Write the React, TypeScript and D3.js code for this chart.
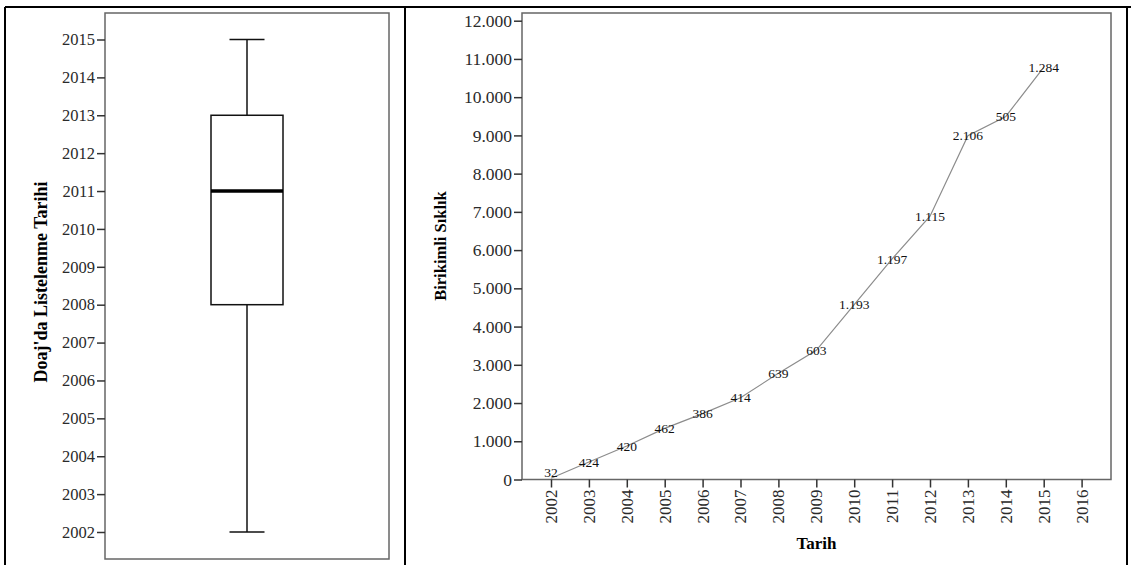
import React, { useEffect, useRef } from "react";
import * as d3 from "d3";

// box plot: Doaj listing year
const boxStats = { min: 2002, q1: 2008, median: 2011, q3: 2013, max: 2015 };
const boxTicks = [2002, 2003, 2004, 2005, 2006, 2007, 2008, 2009, 2010, 2011, 2012, 2013, 2014, 2015];

// line chart: cumulative frequency
const years = [2002, 2003, 2004, 2005, 2006, 2007, 2008, 2009, 2010, 2011, 2012, 2013, 2014, 2015, 2016];
const yearlyCounts = [32, 424, 420, 462, 386, 414, 639, 603, 1193, 1197, 1115, 2106, 505, 1284];
const cumTicks = [0, 1000, 2000, 3000, 4000, 5000, 6000, 7000, 8000, 9000, 10000, 11000, 12000];

const trFormat = d3.formatLocale({ decimal: ",", thousands: ".", grouping: [3], currency: ["", ""] }).format(",");
const SERIF = "'Liberation Serif', 'Times New Roman', serif";

const App = () => {
  const svgRef = useRef<SVGSVGElement>(null);

  useEffect(() => {
    const svg = d3.select(svgRef.current);
    svg.selectAll("*").remove();

    // table borders
    const border = svg.append("g").attr("stroke", "#000").attr("stroke-width", 2);
    border.append("line").attr("x1", 5).attr("x2", 1131).attr("y1", 7).attr("y2", 7);
    [5, 405, 1127].forEach((x) => {
      border.append("line").attr("x1", x).attr("x2", x).attr("y1", 7).attr("y2", 565);
    });

    const styleAxis = (size) => (g) => {
      g.select(".domain").remove();
      g.selectAll(".tick line").attr("stroke", "#333").attr("stroke-width", 1.5);
      g.selectAll(".tick text")
        .attr("fill", "#2a2a2a")
        .style("font-family", SERIF)
        .style("font-size", size + "px");
    };

    // ---- left: box plot
    const left = svg.append("g");
    const yBox = d3.scaleLinear().domain([2002, 2015]).range([532, 39.5]);
    const cx = 247;
    const boxW = 72;
    const capW = 35;

    left
      .append("rect")
      .attr("x", 105)
      .attr("y", 13)
      .attr("width", 284)
      .attr("height", 546)
      .attr("fill", "#fff")
      .attr("stroke", "#666")
      .attr("stroke-width", 1.5);

    left
      .append("g")
      .attr("transform", "translate(105,0)")
      .call(d3.axisLeft(yBox).tickValues(boxTicks).tickFormat(d3.format("d")).tickSize(8).tickPadding(2))
      .call(styleAxis(16.5));

    const box = left.append("g").attr("stroke", "#111").attr("stroke-width", 1.5).attr("fill", "none");
    box.append("line").attr("x1", cx).attr("x2", cx).attr("y1", yBox(boxStats.max)).attr("y2", yBox(boxStats.q3));
    box.append("line").attr("x1", cx).attr("x2", cx).attr("y1", yBox(boxStats.q1)).attr("y2", yBox(boxStats.min));
    [boxStats.min, boxStats.max].forEach((v) => {
      box
        .append("line")
        .attr("x1", cx - capW / 2)
        .attr("x2", cx + capW / 2)
        .attr("y1", yBox(v))
        .attr("y2", yBox(v));
    });
    box
      .append("rect")
      .attr("x", cx - boxW / 2)
      .attr("y", yBox(boxStats.q3))
      .attr("width", boxW)
      .attr("height", yBox(boxStats.q1) - yBox(boxStats.q3));
    box
      .append("line")
      .attr("x1", cx - boxW / 2)
      .attr("x2", cx + boxW / 2)
      .attr("y1", yBox(boxStats.median))
      .attr("y2", yBox(boxStats.median))
      .attr("stroke", "#000")
      .attr("stroke-width", 3.5);

    left
      .append("text")
      .attr("transform", "translate(47,282) rotate(-90)")
      .attr("text-anchor", "middle")
      .style("font-family", SERIF)
      .style("font-size", "18px")
      .style("font-weight", "bold")
      .text("Doaj'da Listelenme Tarihi");

    // ---- right: cumulative line
    const right = svg.append("g");
    const x = d3.scalePoint().domain(years).range([551, 1081.6]);
    const y = d3.scaleLinear().domain([0, 12000]).range([479.5, 20.7]);
    const cum = Array.from(d3.cumsum(yearlyCounts));
    const points = cum.map((v, i) => ({ year: years[i], value: v, count: yearlyCounts[i] }));

    right
      .append("rect")
      .attr("x", 522)
      .attr("y", 13)
      .attr("width", 589)
      .attr("height", 466.5)
      .attr("fill", "#fff")
      .attr("stroke", "#666")
      .attr("stroke-width", 1.5);

    right
      .append("g")
      .attr("transform", "translate(522,0)")
      .call(d3.axisLeft(y).tickValues(cumTicks).tickFormat(trFormat).tickSize(8).tickPadding(2))
      .call(styleAxis(17.5));

    right
      .append("g")
      .attr("transform", "translate(0,479.5)")
      .call(d3.axisBottom(x).tickFormat(d3.format("d")).tickSize(8).tickPadding(2))
      .call(styleAxis(17))
      .call((g) =>
        g
          .selectAll(".tick text")
          .attr("transform", "rotate(-90)")
          .attr("text-anchor", "end")
          .attr("x", -10)
          .attr("y", 0)
          .attr("dy", "0.32em")
      );

    const line = d3
      .line()
      .x((d) => x(d.year))
      .y((d) => y(d.value));

    right
      .append("path")
      .datum(points)
      .attr("d", line)
      .attr("fill", "none")
      .attr("stroke", "#8c8c8c")
      .attr("stroke-width", 1.2);

    right
      .append("g")
      .selectAll("text")
      .data(points)
      .join("text")
      .attr("x", (d) => x(d.year))
      .attr("y", (d) => Math.min(y(d.value), y(0) - 7))
      .attr("dy", "0.35em")
      .attr("text-anchor", "middle")
      .attr("fill", "#111")
      .style("font-family", SERIF)
      .style("font-size", "13.5px")
      .text((d) => trFormat(d.count));

    right
      .append("text")
      .attr("transform", "translate(446,246) rotate(-90)")
      .attr("text-anchor", "middle")
      .style("font-family", SERIF)
      .style("font-size", "16.5px")
      .style("font-weight", "bold")
      .text("Birikimli Sıklık");

    right
      .append("text")
      .attr("x", 816.5)
      .attr("y", 549)
      .attr("text-anchor", "middle")
      .style("font-family", SERIF)
      .style("font-size", "17px")
      .style("font-weight", "bold")
      .text("Tarih");
  }, []);

  return (
    <div style={{ position: "absolute", left: 0, top: 0 }}>
      <svg ref={svgRef} width={1131} height={565} style={{ display: "block", background: "#fff" }}></svg>
    </div>
  );
};

export default App;
